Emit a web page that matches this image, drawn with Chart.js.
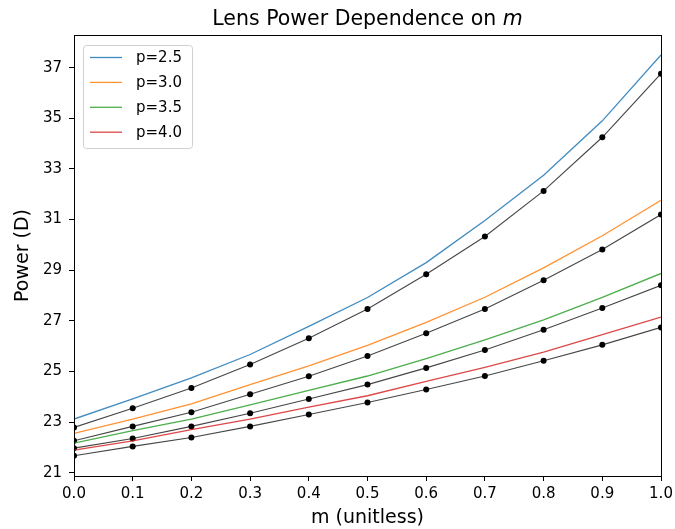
<!DOCTYPE html>
<html>
<head>
<meta charset="utf-8">
<script src="https://cdn.jsdelivr.net/npm/chart.js@4/dist/chart.umd.min.js"></script>
<style>
html,body{margin:0;padding:0;background:#fff;}
#wrap{width:675px;height:529px;position:relative;}
</style>
</head>
<body>
<div id="wrap"><canvas id="c" width="675" height="529"></canvas></div>
<script>
const mValues = [0.0, 0.1, 0.2, 0.3, 0.4, 0.5, 0.6, 0.7, 0.8, 0.9, 1.0];
const xTicks = [0.0, 0.1, 0.2, 0.3, 0.4, 0.5, 0.6, 0.7, 0.8, 0.9, 1.0];
const yTicks = [21, 23, 25, 27, 29, 31, 33, 35, 37];

const seriesLabels = ["p=2.5", "p=3.0", "p=3.5", "p=4.0"];
const modelP25 = [23.12, 23.92, 24.75, 25.67, 26.78, 27.92, 29.30, 30.96, 32.75, 34.90, 37.50];
const modelP30 = [22.55, 23.12, 23.72, 24.48, 25.22, 26.03, 26.94, 27.93, 29.09, 30.36, 31.76];
const modelP35 = [22.17, 22.66, 23.12, 23.68, 24.25, 24.82, 25.51, 26.25, 27.04, 27.93, 28.87];
const modelP40 = [21.89, 22.26, 22.70, 23.12, 23.59, 24.04, 24.61, 25.16, 25.76, 26.45, 27.15];

const measP25 = [22.79, 23.55, 24.35, 25.27, 26.31, 27.47, 28.84, 30.33, 32.13, 34.25, 36.76];
const measP30 = [22.26, 22.83, 23.39, 24.10, 24.81, 25.61, 26.51, 27.47, 28.60, 29.82, 31.20];
const measP35 = [21.97, 22.35, 22.83, 23.35, 23.91, 24.48, 25.14, 25.85, 26.65, 27.51, 28.40];
const measP40 = [21.67, 22.04, 22.39, 22.83, 23.30, 23.77, 24.29, 24.82, 25.42, 26.05, 26.74];

const colors = ["rgba(31,119,180,0.85)", "rgba(255,127,14,0.85)", "rgba(44,160,44,0.85)", "rgba(214,39,40,0.85)"];
const models = [modelP25, modelP30, modelP35, modelP40];
const meas = [measP25, measP30, measP35, measP40];

const toXY = arr => arr.map((v, i) => ({x: mValues[i], y: v}));

const datasets = [];
models.forEach((arr, i) => {
  datasets.push({
    label: seriesLabels[i], data: toXY(arr), borderColor: colors[i], backgroundColor: colors[i],
    borderWidth: 1.3, pointRadius: 0, tension: 0, fill: false, isModel: true
  });
});
meas.forEach((arr, i) => {
  datasets.push({
    label: "meas " + seriesLabels[i], data: toXY(arr), borderColor: "rgba(50,50,50,0.9)",
    backgroundColor: "#000", borderWidth: 1.1, pointRadius: 3, pointBorderWidth: 0,
    pointBackgroundColor: "#000", tension: 0, fill: false, isModel: false
  });
});

const FONT = "'DejaVu Sans', sans-serif";

const framePlugin = {
  id: 'frame',
  afterDraw(chart) {
    const {ctx, chartArea: a} = chart;
    ctx.save();
    ctx.strokeStyle = "#000";
    ctx.lineWidth = 1;
    ctx.strokeRect(Math.round(a.left) + 0.5, Math.round(a.top) + 0.5, Math.round(a.right - a.left), Math.round(a.bottom - a.top));
    // title
    ctx.fillStyle = "#000";
    ctx.textBaseline = "alphabetic";
    const t1 = "Lens Power Dependence on ";
    const t2 = "m";
    const TF = 20.5;
    ctx.font = TF + "px " + FONT;
    const w1 = ctx.measureText(t1).width;
    ctx.font = "italic " + TF + "px " + FONT;
    const w2 = ctx.measureText(t2).width;
    const cx = (a.left + a.right) / 2;
    let x0 = cx - (w1 + w2) / 2;
    ctx.textAlign = "left";
    ctx.font = TF + "px " + FONT;
    ctx.fillText(t1, x0, 25);
    ctx.font = "italic " + TF + "px " + FONT;
    ctx.fillText(t2, x0 + w1, 25);
    // legend
    const lx = a.left + 9, ly = a.top + 10, lw = 109, lh = 103;
    ctx.fillStyle = "rgba(255,255,255,0.8)";
    ctx.strokeStyle = "#d0d0d0";
    ctx.lineWidth = 1;
    ctx.beginPath();
    if (ctx.roundRect) ctx.roundRect(lx + 0.5, ly + 0.5, lw, lh, 3); else ctx.rect(lx + 0.5, ly + 0.5, lw, lh);
    ctx.fill(); ctx.stroke();
    ctx.font = "15px " + FONT;
    ctx.textBaseline = "middle";
    chart.data.datasets.filter(d => d.isModel).forEach((d, i) => {
      const yy = ly + 12.5 + i * 24.9;
      ctx.strokeStyle = d.borderColor;
      ctx.lineWidth = 1.3;
      ctx.beginPath();
      ctx.moveTo(lx + 7, yy); ctx.lineTo(lx + 39, yy); ctx.stroke();
      ctx.fillStyle = "#000";
      ctx.fillText(d.label, lx + 53, yy + 0.5);
    });
    ctx.restore();
  }
};

new Chart(document.getElementById('c'), {
  type: 'line',
  data: {datasets},
  plugins: [framePlugin],
  options: {
    responsive: false,
    animation: false,
    devicePixelRatio: 1,
    layout: {padding: {top: 35, right: 14, left: 0, bottom: 0}},
    plugins: {legend: {display: false}, title: {display: false}, tooltip: {enabled: false}},
    scales: {
      x: {
        type: 'linear', min: 0, max: 1,
        afterBuildTicks: s => { s.ticks = xTicks.map(v => ({value: v})); },
        afterFit: s => { s.height = 53; s.paddingRight = 0; s.paddingLeft = 0; },
        grid: {drawOnChartArea: false, drawTicks: true, tickLength: 5, tickColor: "#000", color: "#000"},
        border: {display: true, color: "#000"},
        ticks: {color: "#000", font: {family: FONT, size: 15}, padding: 4, maxRotation: 0,
                callback: v => Number(v).toFixed(1)},
        title: {display: true, text: "m (unitless)", color: "#000", font: {family: FONT, size: 19}, padding: {top: 1.6, bottom: 0}}
      },
      y: {
        type: 'linear', min: 20.87, max: 38.29,
        afterBuildTicks: s => { s.ticks = yTicks.map(v => ({value: v})); },
        afterFit: s => { s.width = 74; s.paddingTop = 0; s.paddingBottom = 0; },
        grid: {drawOnChartArea: false, drawTicks: true, tickLength: 5, tickColor: "#000", color: "#000"},
        border: {display: true, color: "#000"},
        ticks: {color: "#000", font: {family: FONT, size: 15}, padding: 7,
                callback: v => String(v)},
        title: {display: true, text: "Power (D)", color: "#000", font: {family: FONT, size: 19}, padding: {top: 11.6, bottom: 0}}
      }
    }
  }
});
</script>
</body>
</html>
